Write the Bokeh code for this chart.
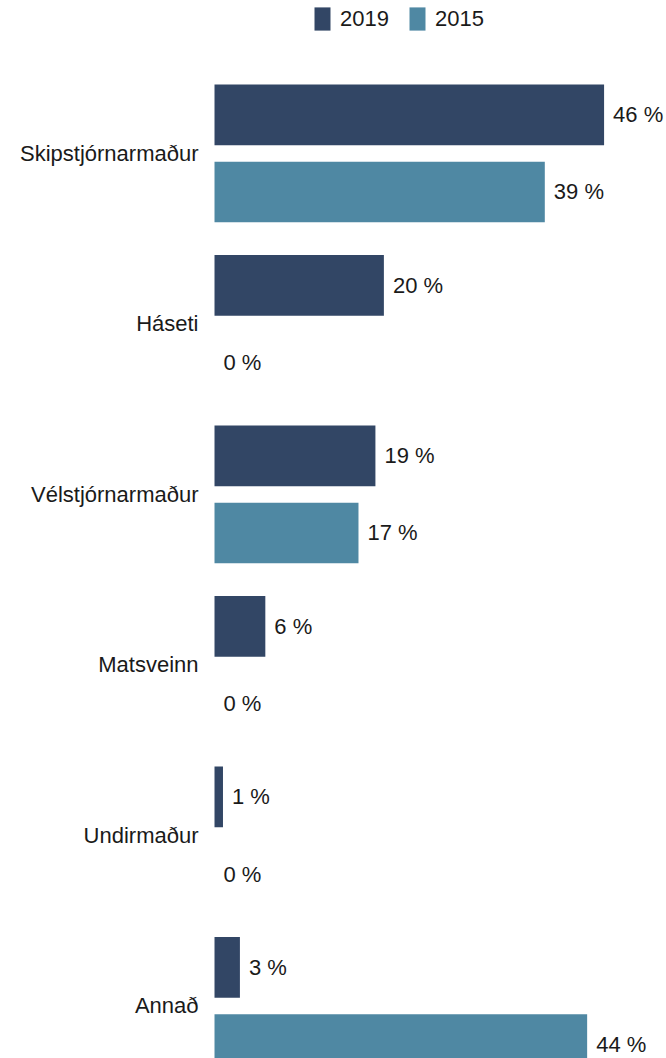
from bokeh.plotting import figure
from bokeh.models import ColumnDataSource, Range1d, Legend, LegendItem
from bokeh.core.properties import value
from bokeh.embed import file_html
from bokeh.resources import INLINE
import numpy as np

# ---- data ----
categories = ["Skipstjórnarmaður", "Háseti", "Vélstjórnarmaður", "Matsveinn", "Undirmaður", "Annað"]
values_2019 = [46, 20, 19, 6, 1, 3]
values_2015 = [39, 0, 17, 0, 0, 44]
series = ["2019", "2015"]
colors = ["#324665", "#4f88a3"]

FONT = "Liberation Sans"
FS = "22px"
TXT = "#1a1a1a"

W, H = 666, 1058

idx = np.arange(len(categories))
OFF = 0.226
BAR_H = 0.356

src19 = ColumnDataSource(dict(y=idx - OFF, v=values_2019, lbl=[f"{v} %" for v in values_2019]))
src15 = ColumnDataSource(dict(y=idx + OFF, v=values_2015, lbl=[f"{v} %" for v in values_2015]))
srccat = ColumnDataSource(dict(y=idx, x=[0] * len(categories), cat=categories))

p = figure(width=W, height=H, output_backend="svg", toolbar_location=None,
           x_range=Range1d(-25.27, 53.37), y_range=Range1d(5.308, -0.897),
           min_border=0, min_border_left=0, min_border_right=0,
           min_border_top=0, min_border_bottom=0)
p.axis.visible = False
p.grid.visible = False
p.outline_line_color = None
p.background_fill_color = "white"
p.border_fill_color = "white"

r19 = p.hbar(y="y", left=0, right="v", height=BAR_H, source=src19,
             fill_color=colors[0], line_color=None)
r15 = p.hbar(y="y", left=0, right="v", height=BAR_H, source=src15,
             fill_color=colors[1], line_color=None)

for s in (src19, src15):
    p.text(x="v", y="y", text="lbl", source=s, x_offset=9,
           text_align="left", text_baseline="middle",
           text_font=value(FONT), text_font_size=FS, text_color=TXT)

p.text(x="x", y="y", text="cat", source=srccat, x_offset=-16,
       text_align="right", text_baseline="middle",
       text_font=value(FONT), text_font_size=FS, text_color=TXT)

legend = Legend(items=[LegendItem(label=series[0], renderers=[r19]),
                       LegendItem(label=series[1], renderers=[r15])],
                location=(312, H - 33), orientation="horizontal",
                glyph_width=20, glyph_height=29, label_standoff=8, spacing=18,
                padding=0, margin=0, border_line_color=None,
                background_fill_alpha=0,
                label_text_font=FONT, label_text_font_size=FS, label_text_color=TXT)
p.add_layout(legend)

open("out.html", "w").write(file_html(p, INLINE))
